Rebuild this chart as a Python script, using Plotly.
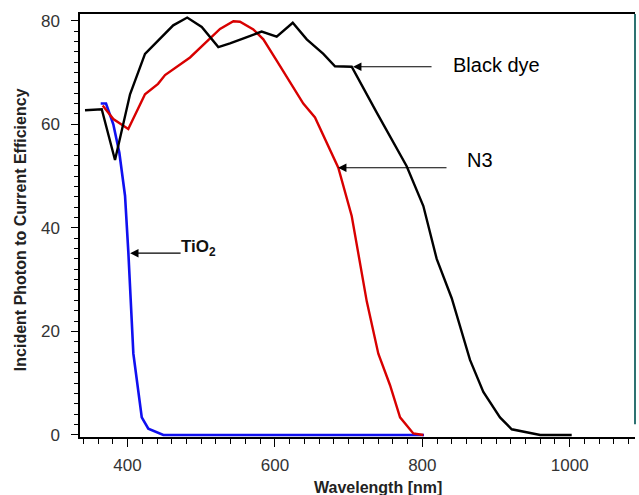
import plotly.graph_objects as go

# Black dye
black_wl = [342.3, 365, 383, 403.4, 423.7, 462, 481, 500.7, 523.2, 539, 559.3, 582, 602.4, 624.2,
            643.2, 665.7, 681.5, 704.2, 738, 778.8, 801.4, 819.5, 839.9, 864.7, 882.8, 905.4,
            921.3, 960, 1002.7]
black_ipce = [62.7, 62.9, 53.1, 65.8, 73.6, 79.1, 80.6, 78.8, 74.9, 75.6, 76.7, 77.9, 76.9, 79.6,
              76.4, 73.6, 71.2, 71.1, 62.3, 51.9, 44.2, 34.0, 26.4, 14.5, 8.3, 3.4,
              1.1, 0.0, 0.0]

# N3
n3_wl = [366.3, 380.7, 401, 423.7, 441.4, 450.9, 484.8, 507.5, 525.5, 543.6, 552.6, 570.7, 584.3,
         602.4, 620.5, 638.5, 654.4, 670.3, 686, 704.2, 715.5, 724.6, 740.3, 756.2, 769.8,
         787.8, 801.4]
n3_ipce = [63.6, 61.0, 59.1, 65.8, 67.8, 69.5, 72.9, 76.0, 78.4, 79.9, 79.8, 78.3, 76.4,
           72.3, 68.2, 64.0, 61.3, 56.4, 51.6, 42.3, 32.8, 25.8, 15.7, 9.6, 3.4,
           0.3, 0.0]

# TiO2
tio2_wl = [363.6, 370.8, 380.7, 388.9, 396.6, 401.1, 407.9, 419.3, 428.2, 448.6, 802.3]
tio2_ipce = [64.0, 64.0, 60.0, 54.5, 46.2, 35.3, 15.7, 3.4, 1.2, 0.0, 0.0]

FONT = "Liberation Sans, Arial, sans-serif"

fig = go.Figure()
fig.add_trace(go.Scatter(x=tio2_wl, y=tio2_ipce, mode="lines",
                         line=dict(color="#1010f0", width=2.6), showlegend=False))
fig.add_trace(go.Scatter(x=n3_wl, y=n3_ipce, mode="lines",
                         line=dict(color="#d80000", width=2.4), showlegend=False))
fig.add_trace(go.Scatter(x=black_wl, y=black_ipce, mode="lines",
                         line=dict(color="#000000", width=2.4), showlegend=False))

fig.update_layout(
    template="none",
    width=639, height=495,
    margin=dict(l=80, r=4, t=14, b=58, autoexpand=False),
    paper_bgcolor="white", plot_bgcolor="white",
    font=dict(family=FONT, color="#222222"),
    xaxis=dict(range=[335.5, 1088.6], tick0=0, dtick=200, ticks="outside", ticklen=8,
               tickcolor="black", tickwidth=1, showline=True, linecolor="black", linewidth=1.5,
               mirror=True, showgrid=False, zeroline=False, automargin=False,
               tickfont=dict(size=17, color="#333333", family=FONT), ticklabelstandoff=4,
               minor=dict(dtick=20, tick0=0, ticks="outside", ticklen=5, tickcolor="black",
                          showgrid=False)),
    yaxis=dict(range=[-0.39, 81.29], tick0=0, dtick=20, ticks="outside", ticklen=7,
               tickcolor="black", tickwidth=1, showline=True, linecolor="black", linewidth=1.5,
               mirror=False, showgrid=False, zeroline=False, automargin=False,
               tickfont=dict(size=17, color="#333333", family=FONT), ticklabelstandoff=8,
               minor=dict(dtick=2, tick0=0, ticks="outside", ticklen=4, tickcolor="black",
                          showgrid=False)),
    shapes=[dict(type="line", xref="paper", yref="paper", x0=1, x1=1, y0=0.03, y1=1,
                 line=dict(color="#2e7272", width=2))],
)

annotations = [
    # arrows
    dict(x=706, y=71.1, xref="x", yref="y", ax=80, ay=0, text="", showarrow=True,
         arrowhead=2, arrowsize=1.4, arrowwidth=1.2, arrowcolor="black"),
    dict(x=685.6, y=51.6, xref="x", yref="y", ax=110, ay=0, text="", showarrow=True,
         arrowhead=2, arrowsize=1.4, arrowwidth=1.2, arrowcolor="black"),
    dict(x=403.5, y=35.1, xref="x", yref="y", ax=52, ay=0, text="", showarrow=True,
         arrowhead=2, arrowsize=1.4, arrowwidth=1.2, arrowcolor="black"),
    # labels
    dict(x=900, y=71.4, xref="x", yref="y", text="Black dye", showarrow=False,
         font=dict(size=20, color="black", family=FONT), xanchor="center", yanchor="middle"),
    dict(x=878.3, y=53.1, xref="x", yref="y", text="N3", showarrow=False,
         font=dict(size=20, color="black", family=FONT), xanchor="center", yanchor="middle"),
    dict(x=496, y=36.2, xref="x", yref="y", text="<b>TiO<sub>2</sub></b>", showarrow=False,
         font=dict(size=17, color="#111111", family=FONT), xanchor="center", yanchor="middle"),
    # axis titles
    dict(x=0.537, y=0, xref="paper", yref="paper", yshift=-50, text="<b>Wavelength [nm]</b>",
         showarrow=False, font=dict(size=16, color="#222222", family=FONT),
         xanchor="center", yanchor="middle"),
    dict(x=0, y=0.489, xref="paper", yref="paper", xshift=-60,
         text="<b>Incident Photon to Current Efficiency</b>", textangle=-90,
         showarrow=False, font=dict(size=16, color="#222222", family=FONT),
         xanchor="center", yanchor="middle"),
]
fig.update_layout(annotations=annotations)

fig.write_html("out.html", config={"displayModeBar": False},
               post_script="document.body.style.margin='0';document.body.style.overflow='hidden';")
